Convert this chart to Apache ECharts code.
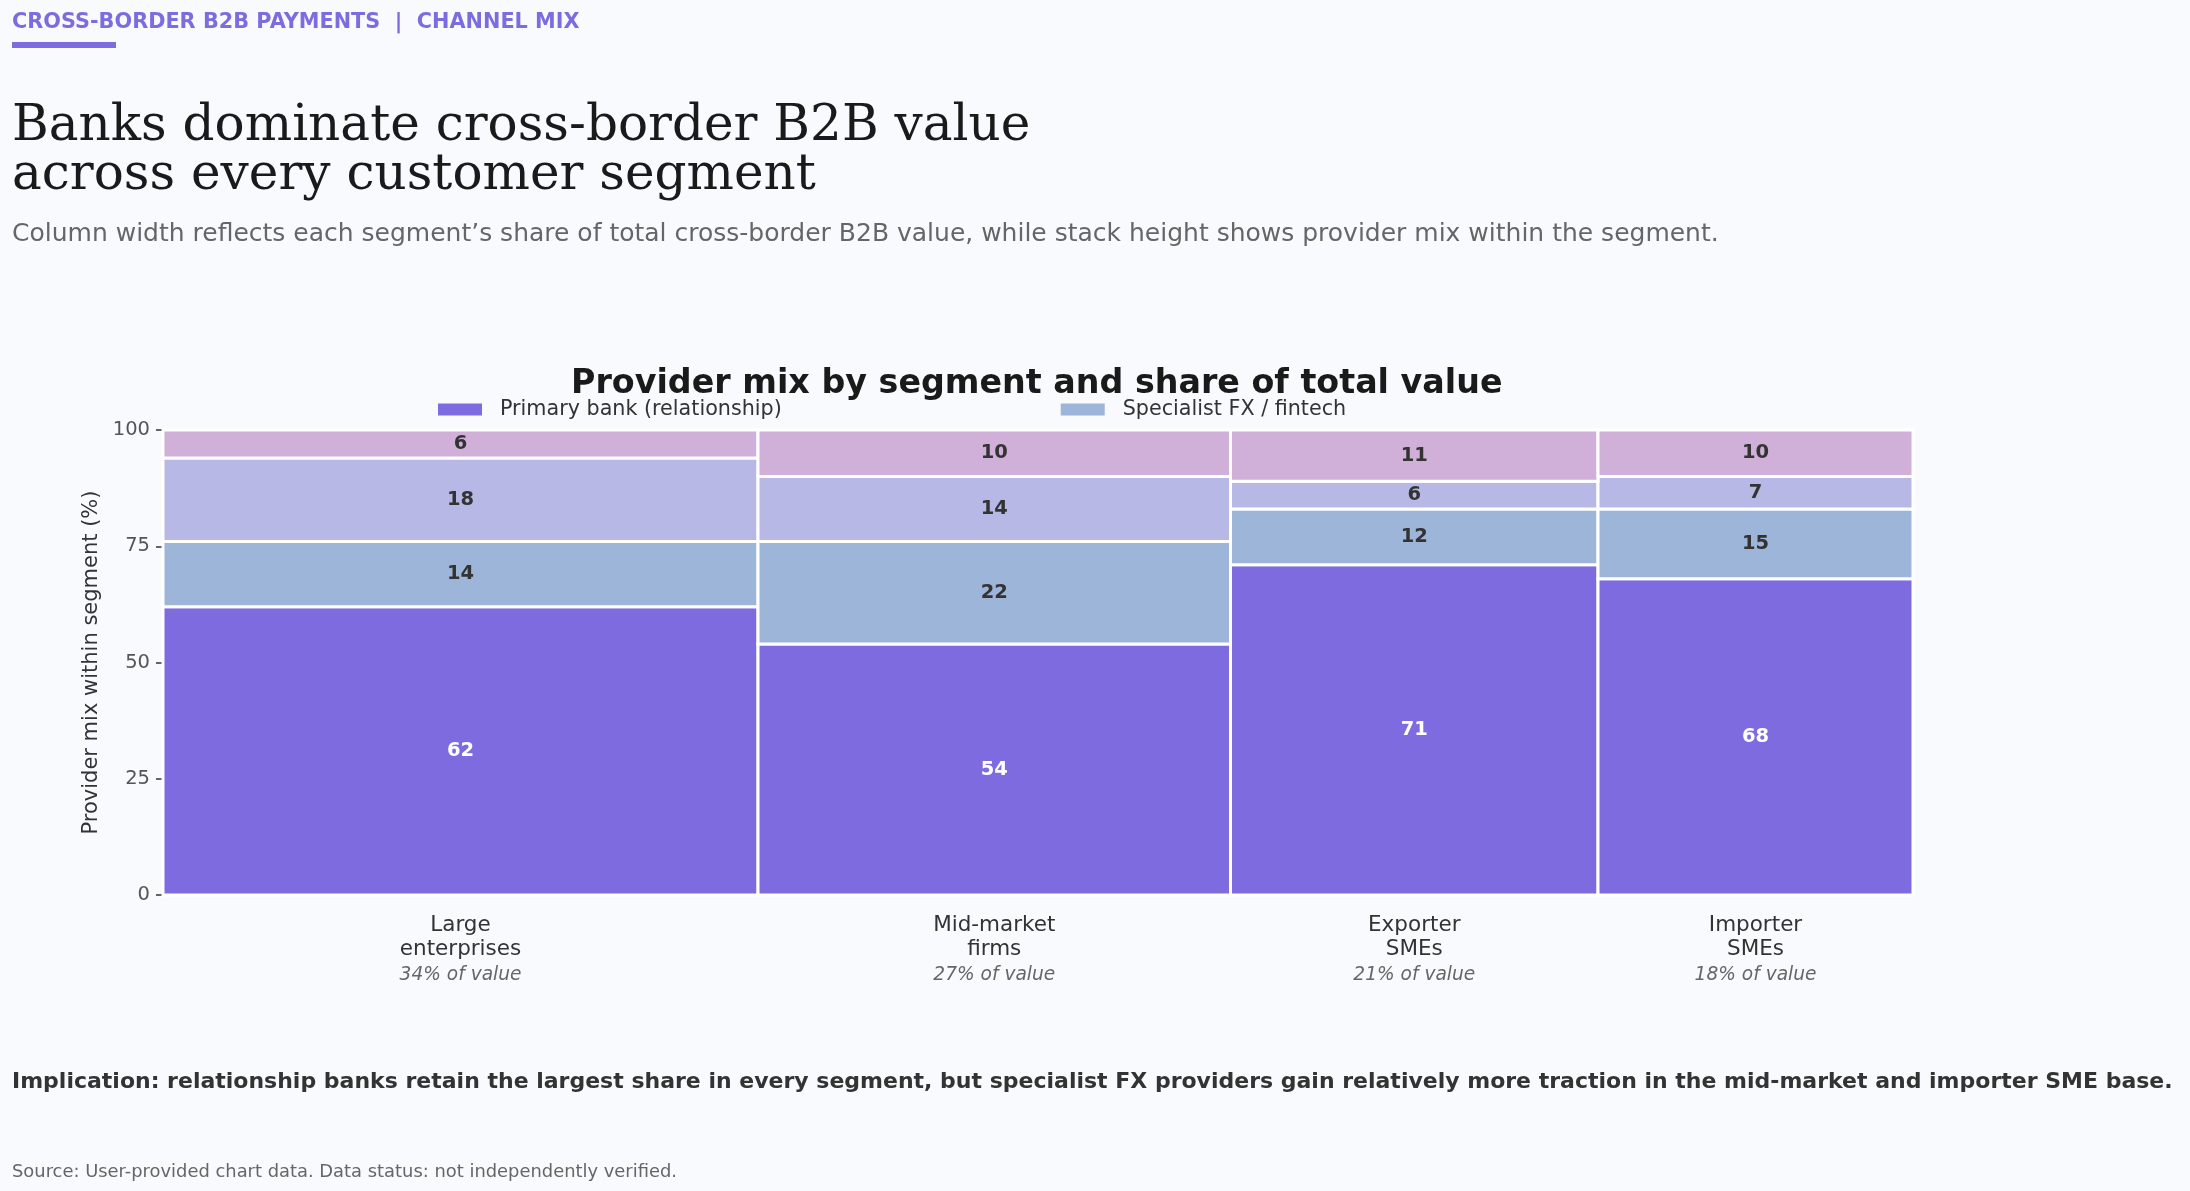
<!DOCTYPE html>
<html>
<head>
<meta charset="utf-8">
<script src="https://cdn.jsdelivr.net/npm/echarts@6/dist/echarts.min.js"></script>
<style>
html,body{margin:0;padding:0;background:#f9fafd;}
#chart{width:2190px;height:1191px;}
</style>
</head>
<body>
<div id="chart"></div>
<script>
// ---- Data ----
const segments = ['Large\nenterprises', 'Mid-market\nfirms', 'Exporter\nSMEs', 'Importer\nSMEs'];
const valueShare = [34, 27, 21, 18];          // % of total cross-border B2B value (column width)
const primaryBank = [62, 54, 71, 68];         // Primary bank (relationship)
const specialistFX = [14, 22, 12, 15];        // Specialist FX / fintech
const otherBanks = [18, 14, 6, 7];            // third stack layer
const otherProviders = [6, 10, 11, 10];       // top stack layer
const yTicks = [0, 25, 50, 75, 100];

const seriesDefs = [
  { name: 'Primary bank (relationship)', values: primaryBank, color: '#7f6be0', label: '#ffffff' },
  { name: 'Specialist FX / fintech', values: specialistFX, color: '#9eb5da', label: '#333333' },
  { name: 'Other banks', values: otherBanks, color: '#b7b8e5', label: '#333333' },
  { name: 'Other providers', values: otherProviders, color: '#d0afd8', label: '#333333' }
];

// column extents
const xStart = [], xEnd = [], xCenter = [];
let acc = 0;
valueShare.forEach(function (s) { xStart.push(acc); acc += s; xEnd.push(acc); xCenter.push(xStart[xStart.length - 1] + s / 2); });

// stacked bottoms
const base = segments.map(function () { return 0; });
const series = seriesDefs.map(function (def) {
  const data = def.values.map(function (v, i) {
    const item = [xStart[i], xEnd[i], base[i], base[i] + v, v];
    base[i] += v;
    return item;
  });
  return {
    type: 'custom',
    name: def.name,
    color: def.color,
    encode: { x: [0, 1], y: [2, 3] },
    data: data,
    renderItem: function (params, api) {
      const p0 = api.coord([api.value(0), api.value(3)]);
      const p1 = api.coord([api.value(1), api.value(2)]);
      return {
        type: 'rect',
        shape: { x: p0[0], y: p0[1], width: p1[0] - p0[0], height: p1[1] - p0[1] },
        style: { fill: def.color, stroke: '#ffffff', lineWidth: 3 },
        textContent: {
          style: {
            text: String(api.value(4)),
            fill: def.label,
            font: 'bold 19.5px "DejaVu Sans"'
          }
        },
        textConfig: { position: 'inside' }
      };
    }
  };
});

function xLabel(v) {
  let idx = 0, best = Infinity;
  xCenter.forEach(function (c, i) { if (Math.abs(c - v) < best) { best = Math.abs(c - v); idx = i; } });
  const lines = segments[idx].split('\n').map(function (l) { return '{n|' + l + '}'; });
  return lines.join('\n') + '\n{s|' + valueShare[idx] + '% of value}';
}

const chart = echarts.init(document.getElementById('chart'), null, { renderer: 'canvas' });
chart.setOption({
  backgroundColor: '#f9fafd',
  animation: false,
  textStyle: { fontFamily: 'DejaVu Sans' },
  title: [
    { text: 'CROSS-BORDER B2B PAYMENTS  |  CHANNEL MIX', left: 12, top: 12, padding: 0,
      textStyle: { fontFamily: 'DejaVu Sans', fontWeight: 'bold', fontSize: 20.8, color: '#7f6be0' } },
    { text: 'Banks dominate cross-border B2B value\nacross every customer segment', left: 12, top: 103, padding: 0,
      textStyle: { fontFamily: 'DejaVu Serif', fontWeight: 'normal', fontSize: 50, lineHeight: 49, color: '#1a1a1a' } },
    { text: 'Column width reflects each segment\u2019s share of total cross-border B2B value, while stack height shows provider mix within the segment.',
      left: 12, top: 222, padding: 0,
      textStyle: { fontFamily: 'DejaVu Sans', fontWeight: 'normal', fontSize: 25, color: '#666666' } },
    { text: 'Provider mix by segment and share of total value', left: 571, top: 368, padding: 0,
      textStyle: { fontFamily: 'DejaVu Sans', fontWeight: 'bold', fontSize: 33.3, color: '#1a1a1a' } },
    { text: 'Implication: relationship banks retain the largest share in every segment, but specialist FX providers gain relatively more traction in the mid-market and importer SME base.',
      left: 12, top: 1071, padding: 0,
      textStyle: { fontFamily: 'DejaVu Sans', fontWeight: 'bold', fontSize: 22, color: '#333333' } },
    { text: 'Source: User-provided chart data. Data status: not independently verified.',
      left: 12, top: 1163, padding: 0,
      textStyle: { fontFamily: 'DejaVu Sans', fontWeight: 'normal', fontSize: 17.9, color: '#666666' } }
  ],
  graphic: [
    { type: 'rect', left: 12, top: 42, shape: { width: 104, height: 6 }, style: { fill: '#7f6be0' } }
  ],
  legend: {
    data: [seriesDefs[0].name, seriesDefs[1].name],
    left: 433, top: 394,
    itemWidth: 44, itemHeight: 12, itemGap: 279,
    icon: 'rect',
    textStyle: { fontFamily: 'DejaVu Sans', fontSize: 20.7, color: '#333333', padding: [0, 0, 0, 13] }
  },
  grid: { left: 163, right: 277, top: 430, bottom: 296, containLabel: false },
  xAxis: {
    type: 'value', min: 0, max: 100,
    axisLine: { show: false }, axisTick: { show: false }, splitLine: { show: false },
    axisLabel: {
      customValues: xCenter,
      margin: 19,
      formatter: xLabel,
      rich: {
        n: { fontFamily: 'DejaVu Sans', fontSize: 21.5, lineHeight: 23.5, color: '#333333', align: 'center' },
        s: { fontFamily: 'DejaVu Sans', fontSize: 18.6, lineHeight: 28, color: '#666666', fontStyle: 'italic', align: 'center' }
      }
    }
  },
  yAxis: {
    type: 'value', min: 0, max: 100, interval: 25,
    name: 'Provider mix within segment (%)', nameLocation: 'middle', nameGap: 50,
    nameTextStyle: { fontFamily: 'DejaVu Sans', fontSize: 21, color: '#333333' },
    axisLine: { show: true, lineStyle: { color: '#333333', width: 1.5 } },
    axisTick: { show: true, length: 7, lineStyle: { color: '#333333', width: 1.5 } },
    splitLine: { show: false },
    axisLabel: { fontFamily: 'DejaVu Sans', fontSize: 19.5, color: '#555555', margin: 13,
      formatter: function (v) { return yTicks.indexOf(v) >= 0 ? String(v) : ''; } }
  },
  series: series
});
</script>
</body>
</html>
